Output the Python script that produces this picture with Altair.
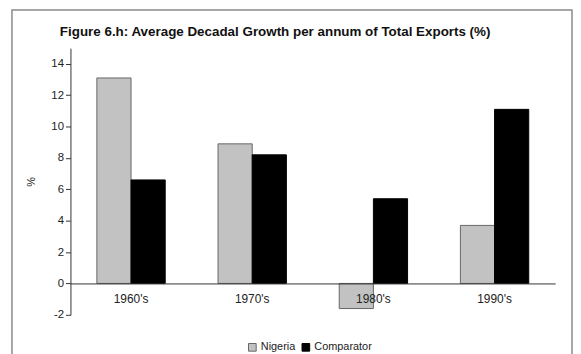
import altair as alt
import pandas as pd

decades = ["1960's", "1970's", "1980's", "1990's"]
nigeria = [13.1, 8.9, -1.6, 3.7]
comparator = [6.6, 8.2, 5.4, 11.1]
series = ["Nigeria", "Comparator"]
y_ticks = [-2, 0, 2, 4, 6, 8, 10, 12, 14]
title_text = "Figure 6.h: Average Decadal Growth per annum of Total Exports (%)"

rows = []
for d, n, c in zip(decades, nigeria, comparator):
    rows.append({"decade": d, "series": "Nigeria", "value": n})
    rows.append({"decade": d, "series": "Comparator", "value": c})
df = pd.DataFrame(rows)

W, H = 489, 269
YMIN, YMAX = -2, 15
zero_offset = -(0 - YMIN) / (YMAX - YMIN) * H

FONT = "Liberation Sans"

bars = alt.Chart(df).mark_bar(strokeWidth=1).encode(
    x=alt.X("decade:N", sort=decades,
            scale=alt.Scale(paddingInner=0.436, paddingOuter=0.218),
            axis=alt.Axis(title=None, labelAngle=0, ticks=False, offset=zero_offset,
                          domainColor="#333333", domainWidth=1, labelPadding=10,
                          labelFontSize=12, labelColor="#222222", labelFont=FONT, zindex=1)),
    xOffset=alt.XOffset("series:N", sort=series, scale=alt.Scale(padding=0)),
    y=alt.Y("value:Q", scale=alt.Scale(domain=[YMIN, YMAX], nice=False, zero=False),
            axis=alt.Axis(values=y_ticks, title="%", titleAngle=-90, titleFontSize=11,
                          titleFont=FONT, titleFontWeight="normal", titleColor="#222222",
                          titlePadding=14, grid=False, tickSize=5, tickColor="#333333",
                          domainColor="#333333", labelFontSize=11.5, labelColor="#222222",
                          labelFont=FONT, labelPadding=2,
                          labelExpr="toString(datum.value)")),
    color=alt.Color("series:N", sort=series,
                    scale=alt.Scale(domain=series, range=["#c2c2c2", "#000000"]),
                    legend=alt.Legend(title=None, orient="none", direction="horizontal",
                                      legendX=178, legendY=296, symbolType="square",
                                      symbolSize=60, symbolStrokeWidth=1, symbolStrokeColor="#555555",
                                      labelFontSize=11, labelFont=FONT, labelColor="#222222",
                                      columnPadding=4, labelOffset=3)),
    stroke=alt.Stroke("series:N", sort=series,
                      scale=alt.Scale(domain=series, range=["#666666", "#000000"]),
                      legend=None),
)

frame = alt.Chart(pd.DataFrame({"a": [0]})).mark_rect(
    fillOpacity=0, stroke="#8a8a8a", strokeWidth=1.5
).encode(
    x=alt.value(-59), x2=alt.value(506), y=alt.value(-38.5), y2=alt.value(400)
)

chart = alt.layer(frame, bars).properties(
    width=W, height=H,
    title=alt.Title(title_text, fontSize=13.5, font=FONT, fontWeight="bold",
                    color="#111111", anchor="middle", offset=0, dy=29, dx=-38,
                    frame="group"),
    autosize=alt.AutoSizeParams(type="none"),
    padding={"left": 63, "top": 39, "right": 18, "bottom": 38},
).configure_view(stroke=None)

chart.save("out.html", embed_options={"renderer": "svg", "actions": False})
